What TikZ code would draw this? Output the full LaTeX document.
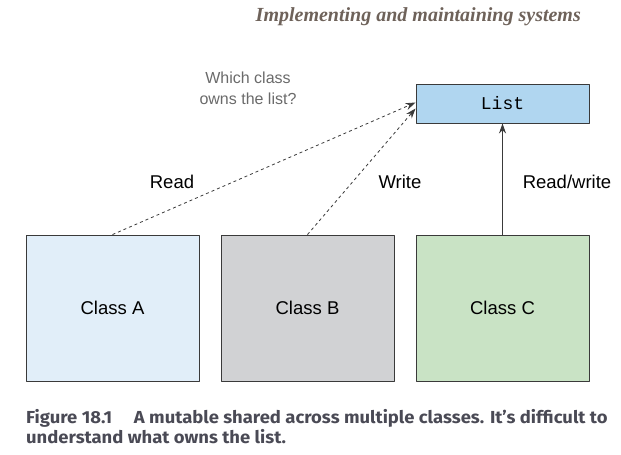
\documentclass[tikz,border=0pt]{standalone}
\usepackage{fontspec}
\setmainfont{Liberation Sans}
\setmonofont{Liberation Mono}
\newfontfamily\headfont{Liberation Serif}
\newfontfamily\capfont[FakeStretch=1.06]{Fira Sans}
\usetikzlibrary{positioning,arrows.meta}
\definecolor{edgegray}{HTML}{3A3A3A}
\definecolor{fillA}{HTML}{E1EEF9}
\definecolor{fillB}{HTML}{D1D2D4}
\definecolor{fillC}{HTML}{C9E3C5}
\definecolor{fillList}{HTML}{B0D6F0}
\definecolor{headcol}{HTML}{6E625A}
\definecolor{notecol}{HTML}{6A6A6A}
\definecolor{capcol}{HTML}{4A4A55}
\tikzset{
  classbox/.style={draw=edgegray, line width=0.9pt, minimum width=173pt, minimum height=146pt, inner sep=0pt, font=\fontsize{18.5}{21}\selectfont},
  listbox/.style={draw=edgegray, line width=0.9pt, fill=fillList, minimum width=173pt, minimum height=39pt, inner sep=0pt, font=\ttfamily\fontsize{18}{20}\selectfont},
  lbl/.style={font=\fontsize{18.5}{21}\selectfont, inner sep=0pt},
}
\begin{document}
\begin{tikzpicture}[x=1pt,y=-1pt,>={Stealth[length=10pt,width=7pt]}, line join=round]
	\useasboundingbox (0,0) rectangle (621,455);
	% --- Tiêu đề trang ---
	\node[anchor=base east, text=headcol, font=\headfont\bfseries\itshape\fontsize{20}{22}\selectfont, inner sep=0pt] (head) at (581,21) {Implementing and maintaining systems};
	
	% --- Các hộp ---
	\node[classbox, fill=fillA] (clsA) at (112.5,308) {Class A};
	\node[classbox, fill=fillB] (clsB) at (307.5,308) {Class B};
	\node[classbox, fill=fillC] (clsC) at (502.5,308) {Class C};
	\node[listbox] (lst) at (502.5,103.5) {List};
	
	% --- Mũi tên ---
	\draw[->, dashed, edgegray, line width=0.8pt] (clsA.north) -- ([yshift=1pt]lst.west);
	\draw[->, dashed, edgegray, line width=0.8pt] (clsB.north) -- ([yshift=-5pt]lst.west);
	\draw[->, edgegray, line width=0.8pt] (clsC.north) -- (lst.south);
	
	% --- Nhãn ---
	\node[lbl] (rd) at (172,182) {Read};
	\node[lbl] (wr) at (400,182) {Write};
	\node[lbl] (rw) at (567,182) {Read/write};
	\node[lbl, text=notecol, align=center, font=\fontsize{16}{21}\selectfont] (note) at (248,88) {Which class\\owns the list?};
	
	% --- Chú thích ---
	\node[anchor=base west, text=capcol, align=left, inner sep=0pt, font=\capfont\bfseries\fontsize{17.4}{20}\selectfont] (cap) at (26,443) {Figure 18.1\quad\ A mutable shared across multiple classes. It’s difficult to\\understand what owns the list.};
\end{tikzpicture}
\end{document}
